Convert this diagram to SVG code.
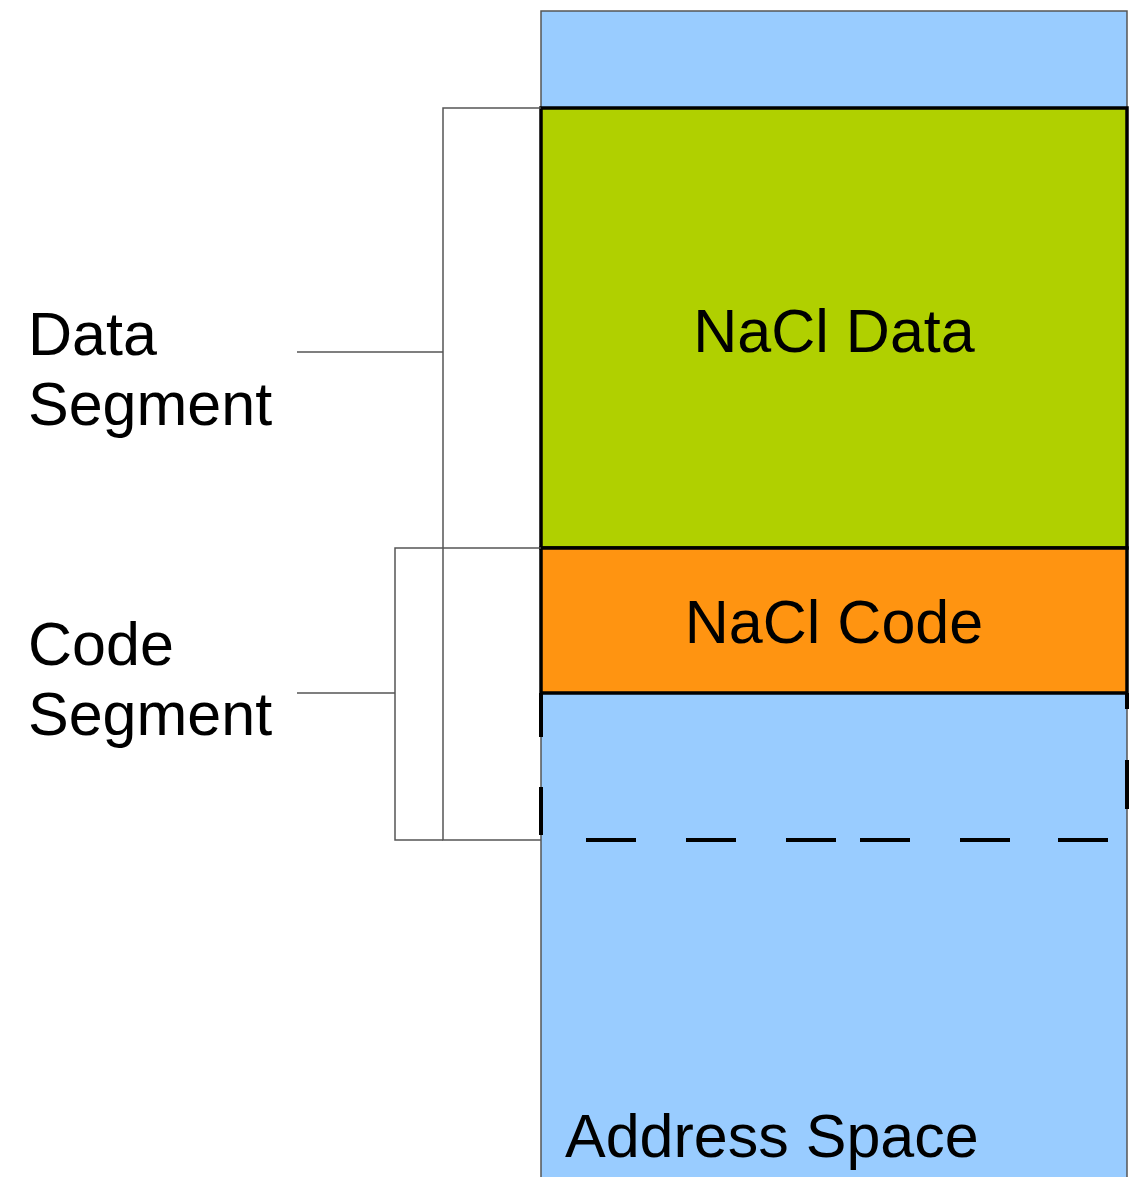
<svg xmlns="http://www.w3.org/2000/svg" width="1132" height="1177" viewBox="0 0 1132 1177">
<style>
.lbl{font-family:"Liberation Sans",Arial,sans-serif;font-size:61px;fill:#000}
.br{fill:none;stroke:#555;stroke-width:1.5}
.dash{fill:none;stroke:#000;stroke-width:4}
</style>
<rect width="1132" height="1177" fill="#fff"/>
<g id="address-space">
<rect x="541" y="11" width="586" height="1180" fill="#99ccff" stroke="#555" stroke-width="1.5"/>
<text class="lbl" x="565" y="1157">Address Space</text>
</g>
<g id="nacl-data">
<rect x="541" y="108" width="586" height="440" fill="#b0d000" stroke="#000" stroke-width="3.5"/>
<text class="lbl" x="834" y="352" text-anchor="middle">NaCl Data</text>
</g>
<g id="nacl-code">
<rect x="541" y="548" width="586" height="145" fill="#ff9411" stroke="#000" stroke-width="3.5"/>
<text class="lbl" x="834" y="643" text-anchor="middle">NaCl Code</text>
</g>
<g id="dashed-region">
<path class="dash" d="M541 693V737M541 787V835M1127 693V709M1127 760V809M586 840H636M686 840H736M786 840H836M860 840H910M960 840H1010M1058 840H1108"/>
</g>
<g id="data-segment">
<text class="lbl" x="28" y="355">Data</text>
<text class="lbl" x="28" y="425">Segment</text>
</g>
<g id="code-segment">
<text class="lbl" x="28" y="665">Code</text>
<text class="lbl" x="28" y="735">Segment</text>
</g>
<g id="connectors">
<path class="br" d="M541 108H443V840H541M297 352H443"/>
<path class="br" d="M541 548H395V840H443M297 693H395"/>
</g>
</svg>
